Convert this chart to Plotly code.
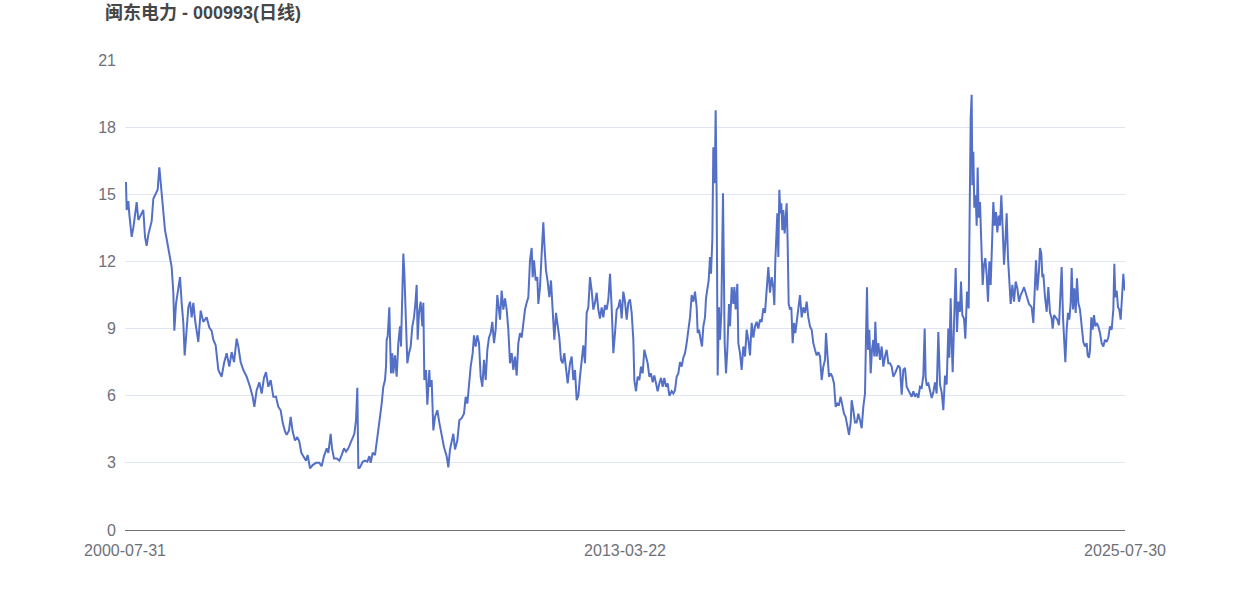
import plotly.graph_objects as go

title_text = "闽东电力 - 000993(日线)"

# trading-day number (0 = 2000-07-31 ... 6000 = 2025-07-30) and close price
trade_day = [
    0, 6, 10, 20, 26, 40, 50, 70, 80, 90, 110, 120, 130, 140, 160, 170, 186, 196, 206, 214,
    226, 240, 250, 266, 280, 290, 296, 306, 320, 330, 340, 350, 358, 370, 380, 390, 400, 410, 420, 440,
    454, 470, 490, 506, 520, 530, 544, 560, 580, 594, 610, 626, 640, 654, 670, 680, 694, 710, 730, 750,
    766, 776, 790, 806, 820, 834, 846, 860, 874, 890, 906, 920, 934, 946, 960, 970, 984, 994, 1006, 1020,
    1034, 1046, 1058, 1070, 1086, 1096, 1110, 1126, 1146, 1166, 1180, 1194, 1210, 1220, 1234, 1242, 1254, 1270, 1286, 1300,
    1314, 1326, 1340, 1354, 1366, 1376, 1386, 1394, 1400, 1410, 1426, 1440, 1454, 1466, 1474, 1486, 1500, 1510, 1520, 1530,
    1540, 1550, 1560, 1566, 1570, 1576, 1580, 1586, 1590, 1596, 1604, 1610, 1620, 1630, 1640, 1650, 1656, 1664, 1670, 1676,
    1684, 1694, 1704, 1714, 1724, 1734, 1742, 1750, 1756, 1764, 1774, 1784, 1790, 1796, 1806, 1814, 1826, 1830, 1840, 1850,
    1860, 1874, 1886, 1900, 1914, 1930, 1940, 1950, 1960, 1970, 1980, 1994, 2006, 2020, 2034, 2044, 2054, 2064, 2074, 2086,
    2094, 2104, 2114, 2124, 2134, 2144, 2154, 2164, 2174, 2184, 2194, 2204, 2214, 2224, 2234, 2242, 2250, 2260, 2270, 2280,
    2290, 2300, 2310, 2320, 2330, 2340, 2350, 2360, 2370, 2380, 2390, 2400, 2410, 2420, 2430, 2440, 2446, 2454, 2464, 2474,
    2480, 2490, 2500, 2510, 2516, 2526, 2536, 2546, 2556, 2566, 2576, 2586, 2596, 2606, 2616, 2626, 2636, 2646, 2656, 2670,
    2680, 2690, 2700, 2710, 2720, 2730, 2740, 2750, 2760, 2770, 2780, 2790, 2800, 2810, 2820, 2830, 2840, 2850, 2860, 2870,
    2880, 2890, 2900, 2910, 2920, 2930, 2940, 2950, 2960, 2970, 2980, 2990, 3000, 3010, 3020, 3030, 3040, 3050, 3056, 3066,
    3076, 3086, 3096, 3106, 3116, 3126, 3136, 3146, 3156, 3166, 3176, 3186, 3196, 3206, 3216, 3226, 3236, 3246, 3256, 3266,
    3280, 3290, 3300, 3310, 3320, 3330, 3340, 3350, 3360, 3370, 3380, 3390, 3400, 3410, 3420, 3430, 3436, 3444, 3454, 3462,
    3470, 3480, 3486, 3494, 3502, 3510, 3516, 3524, 3530, 3538, 3544, 3550, 3556, 3564, 3570, 3578, 3588, 3598, 3606, 3614,
    3624, 3630, 3640, 3650, 3656, 3664, 3674, 3680, 3690, 3700, 3710, 3720, 3730, 3740, 3750, 3760, 3770, 3780, 3790, 3800,
    3810, 3820, 3830, 3840, 3850, 3860, 3870, 3880, 3890, 3896, 3902, 3908, 3914, 3920, 3926, 3932, 3938, 3944, 3950, 3958,
    3964, 3970, 3976, 3982, 3990, 3998, 4006, 4014, 4022, 4030, 4040, 4050, 4060, 4070, 4080, 4090, 4100, 4110, 4120, 4130,
    4140, 4150, 4160, 4170, 4180, 4190, 4200, 4206, 4214, 4224, 4234, 4244, 4254, 4264, 4274, 4284, 4294, 4304, 4314, 4324,
    4334, 4344, 4354, 4360, 4370, 4380, 4390, 4400, 4410, 4420, 4430, 4440, 4446, 4452, 4458, 4466, 4474, 4482, 4490, 4496,
    4502, 4510, 4520, 4530, 4540, 4550, 4560, 4570, 4580, 4590, 4600, 4610, 4620, 4630, 4640, 4650, 4660, 4670, 4680, 4690,
    4700, 4710, 4720, 4730, 4740, 4750, 4760, 4770, 4780, 4790, 4798, 4804, 4810, 4820, 4830, 4840, 4850, 4860, 4870, 4880,
    4890, 4900, 4910, 4920, 4930, 4940, 4946, 4954, 4960, 4966, 4974, 4984, 4992, 5000, 5010, 5016, 5024, 5034, 5042, 5052,
    5062, 5068, 5074, 5080, 5084, 5090, 5096, 5104, 5110, 5116, 5122, 5130, 5138, 5146, 5154, 5162, 5170, 5178, 5186, 5194,
    5202, 5210, 5218, 5226, 5234, 5242, 5250, 5258, 5266, 5274, 5282, 5290, 5298, 5306, 5314, 5324, 5334, 5344, 5354, 5364,
    5374, 5384, 5394, 5404, 5414, 5424, 5430, 5440, 5450, 5458, 5466, 5474, 5484, 5490, 5498, 5504, 5510, 5520, 5530, 5540,
    5550, 5560, 5566, 5574, 5584, 5594, 5604, 5612, 5620, 5628, 5636, 5642, 5650, 5658, 5666, 5674, 5680, 5688, 5696, 5704,
    5712, 5720, 5730, 5740, 5750, 5760, 5770, 5776, 5784, 5790, 5798, 5806, 5814, 5822, 5830, 5840, 5850, 5860, 5870, 5880,
    5890, 5900, 5910, 5920, 5930, 5936, 5942, 5950, 5958, 5966, 5974, 5982, 5990, 5996, 6000,
]

close = [
    15.5, 15.5, 14.3, 14.7, 14.1, 13.1, 13.5, 14.65, 13.85, 14.0, 14.3, 13.1, 12.7, 13.2, 13.8, 14.8, 15.05, 15.2, 16.2, 15.5,
    14.7, 13.4, 13.0, 12.4, 11.75, 10.6, 8.9, 10.1, 10.7, 11.3, 10.15, 9.25, 7.8, 8.9, 9.95, 10.2, 9.5, 10.15, 9.4, 8.4,
    9.8, 9.3, 9.5, 9.05, 8.9, 8.5, 8.25, 7.15, 6.85, 7.45, 7.9, 7.3, 7.95, 7.5, 8.55, 8.2, 7.5, 7.15, 6.85, 6.4,
    5.95, 5.5, 6.25, 6.6, 6.1, 6.8, 7.05, 6.4, 6.7, 5.95, 5.95, 5.5, 5.35, 4.8, 4.4, 4.25, 4.45, 5.05, 4.4, 4.0,
    4.15, 3.95, 3.45, 3.3, 3.1, 3.35, 2.75, 2.9, 3.0, 3.0, 2.85, 3.3, 3.65, 3.45, 4.3, 3.65, 3.2, 3.2, 3.1, 3.35,
    3.65, 3.5, 3.65, 3.9, 4.1, 4.3, 4.9, 6.35, 2.75, 2.8, 3.05, 3.1, 3.05, 3.3, 3.0, 3.45, 3.35, 4.0, 4.45, 5.05,
    5.65, 6.4, 6.7, 7.3, 8.5, 8.65, 9.15, 9.95, 8.6, 7.0, 7.9, 7.0, 7.8, 6.85, 8.35, 9.1, 8.2, 10.4, 12.35, 11.5,
    9.25, 7.45, 7.9, 8.2, 9.1, 9.5, 10.1, 10.95, 8.5, 9.7, 10.2, 9.1, 10.15, 6.7, 7.15, 5.6, 7.15, 6.4, 6.7, 4.45,
    5.05, 5.35, 4.8, 4.15, 3.7, 3.3, 2.8, 3.6, 4.0, 4.3, 3.6, 4.0, 4.9, 5.0, 5.2, 5.95, 5.65, 6.55, 7.3, 7.9,
    8.7, 8.2, 8.7, 8.35, 6.85, 6.4, 7.6, 6.7, 8.05, 8.6, 8.8, 9.3, 8.35, 8.95, 10.5, 9.95, 9.4, 10.7, 9.85, 10.35,
    9.85, 8.95, 7.45, 7.9, 7.15, 7.75, 6.9, 8.35, 8.8, 8.6, 9.4, 9.85, 10.15, 10.4, 12.05, 12.6, 11.3, 12.05, 11.15, 11.3,
    10.1, 10.85, 12.35, 13.75, 12.8, 11.6, 11.1, 10.4, 11.15, 9.7, 8.5, 9.7, 9.25, 8.6, 7.6, 7.45, 7.9, 7.25, 6.55, 7.45,
    7.75, 6.7, 7.15, 5.8, 6.0, 6.85, 7.45, 8.25, 7.45, 9.7, 9.95, 11.3, 10.7, 9.85, 10.15, 10.6, 9.85, 9.45, 9.95, 9.5,
    10.05, 9.85, 10.3, 11.45, 9.95, 7.9, 8.8, 9.85, 9.95, 10.3, 9.45, 10.65, 10.2, 9.4, 10.15, 10.3, 9.7, 8.5, 6.7, 6.2,
    6.85, 6.7, 7.3, 7.0, 8.05, 7.7, 7.45, 6.85, 7.0, 6.6, 6.9, 6.55, 6.2, 6.55, 6.8, 6.4, 6.8, 6.4, 6.55, 6.0,
    6.2, 6.1, 6.25, 6.85, 7.0, 7.5, 7.3, 7.7, 7.9, 8.35, 8.95, 9.5, 10.5, 10.2, 10.65, 9.95, 8.8, 8.95, 8.5, 8.2,
    9.1, 9.5, 10.35, 10.85, 11.15, 12.2, 11.45, 12.95, 17.1, 15.5, 18.75, 14.75, 6.9, 9.95, 8.5, 9.7, 15.05, 8.35, 7.0, 8.05,
    10.1, 9.1, 10.85, 10.1, 10.85, 9.85, 11.0, 8.35, 7.9, 7.15, 8.2, 7.75, 8.95, 8.5, 7.8, 9.25, 8.6, 9.1, 9.3, 9.0,
    9.4, 9.3, 9.9, 9.7, 11.0, 11.75, 10.6, 11.3, 10.8, 10.05, 12.05, 13.1, 14.15, 12.2, 15.2, 14.15, 14.6, 13.4, 14.3, 13.25,
    14.15, 14.6, 12.8, 10.1, 9.85, 9.95, 8.35, 9.25, 8.8, 9.25, 9.95, 10.5, 9.5, 9.95, 9.7, 10.2, 9.5, 9.1, 8.95, 8.35,
    8.05, 7.8, 7.95, 7.75, 6.7, 7.3, 7.6, 8.8, 7.9, 6.85, 7.0, 6.85, 6.55, 5.5, 5.65, 5.6, 5.95, 5.5, 5.2, 5.05,
    4.6, 4.25, 4.8, 5.8, 5.35, 4.8, 4.8, 5.2, 4.9, 4.55, 5.5, 6.1, 8.65, 10.85, 8.05, 8.95, 7.0, 8.05, 8.5, 7.75,
    9.3, 7.75, 8.35, 7.6, 8.2, 7.3, 7.75, 8.05, 7.45, 7.45, 7.3, 6.85, 7.0, 7.15, 7.35, 7.25, 6.05, 7.15, 7.25, 6.4,
    6.25, 6.1, 5.95, 6.2, 5.95, 6.1, 5.9, 6.4, 6.35, 6.9, 9.0, 6.8, 6.5, 6.55, 6.15, 5.9, 6.15, 6.6, 6.1, 8.85,
    6.5, 6.15, 5.35, 6.9, 6.5, 9.0, 7.7, 10.35, 8.4, 7.05, 9.15, 11.7, 8.85, 10.2, 9.75, 11.1, 9.6, 9.45, 8.55, 10.65,
    9.9, 15.4, 18.4, 19.45, 15.4, 16.9, 14.4, 14.95, 13.6, 16.2, 13.95, 14.65, 12.6, 10.95, 11.85, 12.15, 11.4, 10.2, 12.0, 10.95,
    12.75, 14.65, 13.6, 14.2, 13.3, 14.05, 13.6, 14.95, 13.5, 11.85, 12.85, 14.15, 12.15, 10.95, 10.1, 10.95, 10.2, 11.1, 10.8, 10.2,
    10.5, 10.65, 10.85, 10.6, 10.3, 10.1, 10.05, 9.95, 9.25, 10.6, 12.05, 10.7, 11.6, 12.6, 12.35, 11.3, 11.45, 10.4, 9.75, 10.85,
    9.7, 9.45, 9.0, 9.6, 9.5, 9.4, 9.15, 10.3, 11.75, 9.5, 8.5, 7.5, 8.95, 9.7, 9.4, 10.15, 11.7, 9.85, 10.8, 9.7,
    11.25, 10.15, 9.85, 8.95, 8.4, 8.2, 8.35, 7.8, 7.7, 8.05, 9.5, 8.95, 9.6, 9.1, 9.25, 9.1, 8.8, 8.35, 8.2, 8.5,
    8.4, 8.6, 9.1, 8.95, 9.85, 11.9, 10.4, 10.7, 9.95, 9.85, 9.4, 10.4, 11.45, 10.85, 10.7,
]

y_ticks = [0, 3, 6, 9, 12, 15, 18, 21]
x_tick_days = [0, 3000, 6000]
x_tick_labels = ["2000-07-31", "2013-03-22", "2025-07-30"]

fig = go.Figure(
    go.Scatter(
        x=trade_day,
        y=close,
        mode="lines",
        line=dict(color="#5470c6", width=2),
        hoverinfo="y",
    )
)

fig.update_layout(
    width=1250,
    height=600,
    margin=dict(l=125, r=125, t=60, b=70),
    paper_bgcolor="white",
    plot_bgcolor="white",
    showlegend=False,
    font=dict(family="Liberation Sans, Arial, Noto Sans CJK SC, sans-serif", size=16, color="#6e7079"),
    title=dict(
        text="<b>" + title_text + "</b>",
        xref="container",
        yref="container",
        x=105 / 1250,
        xanchor="left",
        y=1 - 13 / 600,
        yanchor="middle",
        font=dict(family="Liberation Sans, Noto Sans CJK SC, sans-serif", size=18, color="#464646"),
    ),
    xaxis=dict(
        range=[0, 6000],
        tickmode="array",
        tickvals=x_tick_days,
        ticktext=x_tick_labels,
        showgrid=False,
        zeroline=False,
        showline=True,
        linecolor="#6e7079",
        linewidth=1,
        ticks="",
        ticklabelstandoff=6,
    ),
    yaxis=dict(
        range=[0, 21],
        tickmode="array",
        tickvals=y_ticks,
        showgrid=True,
        gridcolor="#e0e6f1",
        gridwidth=1,
        zeroline=False,
        showline=False,
        ticks="",
        ticklabelstandoff=8,
    ),
)

fig.write_html(
    "out.html",
    config={"displayModeBar": False},
    post_script="document.body.style.margin='0';document.body.style.padding='0';",
)
